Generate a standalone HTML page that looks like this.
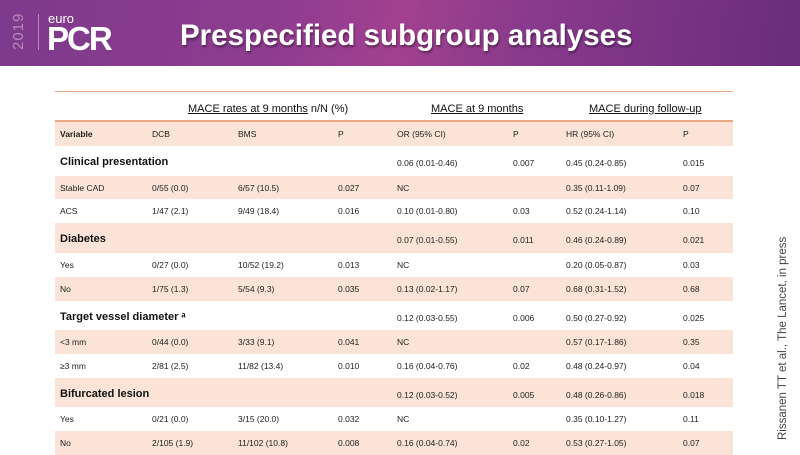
<!DOCTYPE html>
<html><head><meta charset="utf-8"><style>
body{margin:0;width:800px;height:450px;overflow:hidden;background:#fff;font-family:"Liberation Sans",sans-serif;position:relative}
.hdr{position:absolute;left:0;top:0;width:800px;height:66px;background:linear-gradient(100deg,#7d3a8c 0%,#8f3c90 35%,#a2408f 50%,#8a3a8c 65%,#6a2c7c 100%)}
.t{position:absolute;white-space:nowrap}
.band{position:absolute;left:55px;width:678px;background:#fbe4d7}
.cell{position:absolute;font-size:8.5px;color:#222;white-space:nowrap;transform:translateY(-50%)}
.cat{font-size:11px;font-weight:bold;color:#111}
</style></head><body>
<div class="hdr"></div>
<div class="t" style="left:10px;top:50px;transform:rotate(-90deg);transform-origin:0 0;color:#b98ab8;font-size:15px;letter-spacing:1px">2019</div>
<div class="t" style="left:38px;top:14px;width:1px;height:36px;background:#b98ab8"></div>
<div class="t" style="left:48px;top:11px;color:#fff;font-size:13px">euro</div>
<div class="t" style="left:47px;top:20px;color:#fff;font-size:33px;font-weight:bold;letter-spacing:-2px">PCR</div>
<div class="t" style="left:180px;top:19px;color:#fff;font-size:29.5px;font-weight:bold;text-shadow:1px 2px 2px rgba(0,0,0,.4)">Prespecified subgroup analyses</div>

<div class="t" style="left:55px;top:91px;width:678px;height:1px;background:#e9a882"></div>
<div class="t" style="left:188px;top:103px;font-size:11px;color:#111"><u>MACE rates at 9 months</u> n/N (%)</div>
<div class="t" style="left:431px;top:103px;font-size:11px;color:#111"><u>MACE at 9 months</u></div>
<div class="t" style="left:589px;top:103px;font-size:11px;color:#111"><u>MACE during follow-up</u></div>
<div class="t" style="left:55px;top:120px;width:678px;height:2px;background:#e9a882"></div>

<div id="tbl"></div>

<div class="t" style="left:777px;top:440px;transform:rotate(-90deg);transform-origin:0 0;font-size:11.5px;color:#444">Rissanen TT et al., The Lancet, in press</div>

<script>
const rowTops=[122,146,176,199,223,253,277,301,330,354,378,407,431];
const rowBots=[146,176,199,223,253,277,301,330,354,378,407,431,455];
const colX=[60,152,238,338,397,513,566,683];
const rows=[
["Variable","DCB","BMS","P","OR (95% CI)","P","HR (95% CI)","P"],
["Clinical presentation","","","","0.06 (0.01-0.46)","0.007","0.45 (0.24-0.85)","0.015"],
["Stable CAD","0/55 (0.0)","6/57 (10.5)","0.027","NC","","0.35 (0.11-1.09)","0.07"],
["ACS","1/47 (2.1)","9/49 (18.4)","0.016","0.10 (0.01-0.80)","0.03","0.52 (0.24-1.14)","0.10"],
["Diabetes","","","","0.07 (0.01-0.55)","0.011","0.46 (0.24-0.89)","0.021"],
["Yes","0/27 (0.0)","10/52 (19.2)","0.013","NC","","0.20 (0.05-0.87)","0.03"],
["No","1/75 (1.3)","5/54 (9.3)","0.035","0.13 (0.02-1.17)","0.07","0.68 (0.31-1.52)","0.68"],
["Target vessel diameter \u1d43","","","","0.12 (0.03-0.55)","0.006","0.50 (0.27-0.92)","0.025"],
["<3 mm","0/44 (0.0)","3/33 (9.1)","0.041","NC","","0.57 (0.17-1.86)","0.35"],
["\u22653 mm","2/81 (2.5)","11/82 (13.4)","0.010","0.16 (0.04-0.76)","0.02","0.48 (0.24-0.97)","0.04"],
["Bifurcated lesion","","","","0.12 (0.03-0.52)","0.005","0.48 (0.26-0.86)","0.018"],
["Yes","0/21 (0.0)","3/15 (20.0)","0.032","NC","","0.35 (0.10-1.27)","0.11"],
["No","2/105 (1.9)","11/102 (10.8)","0.008","0.16 (0.04-0.74)","0.02","0.53 (0.27-1.05)","0.07"]];
const cats=[1,4,7,10];
const tbl=document.getElementById('tbl');
rows.forEach((r,i)=>{
  if(i%2===0){const b=document.createElement('div');b.className='band';
    b.style.top=rowTops[i]+'px';b.style.height=(rowBots[i]-rowTops[i])+'px';
    
    
    tbl.appendChild(b);}
  const cy=(cats.includes(i)?(rowTops[i]+rowBots[i])/2+2:(rowTops[i]+rowBots[i])/2);
  r.forEach((v,j)=>{if(!v)return;const c=document.createElement('div');
    c.className='cell'+(j===0&&cats.includes(i)?' cat':'');
    if(i===0&&j===0){c.style.fontWeight='bold';}
    c.style.top=(j===0&&cats.includes(i)?cy-1:cy)+'px';
    c.style.left=colX[j]+'px';c.textContent=v;
    
    
    tbl.appendChild(c);});
});
</script>
</body></html>
